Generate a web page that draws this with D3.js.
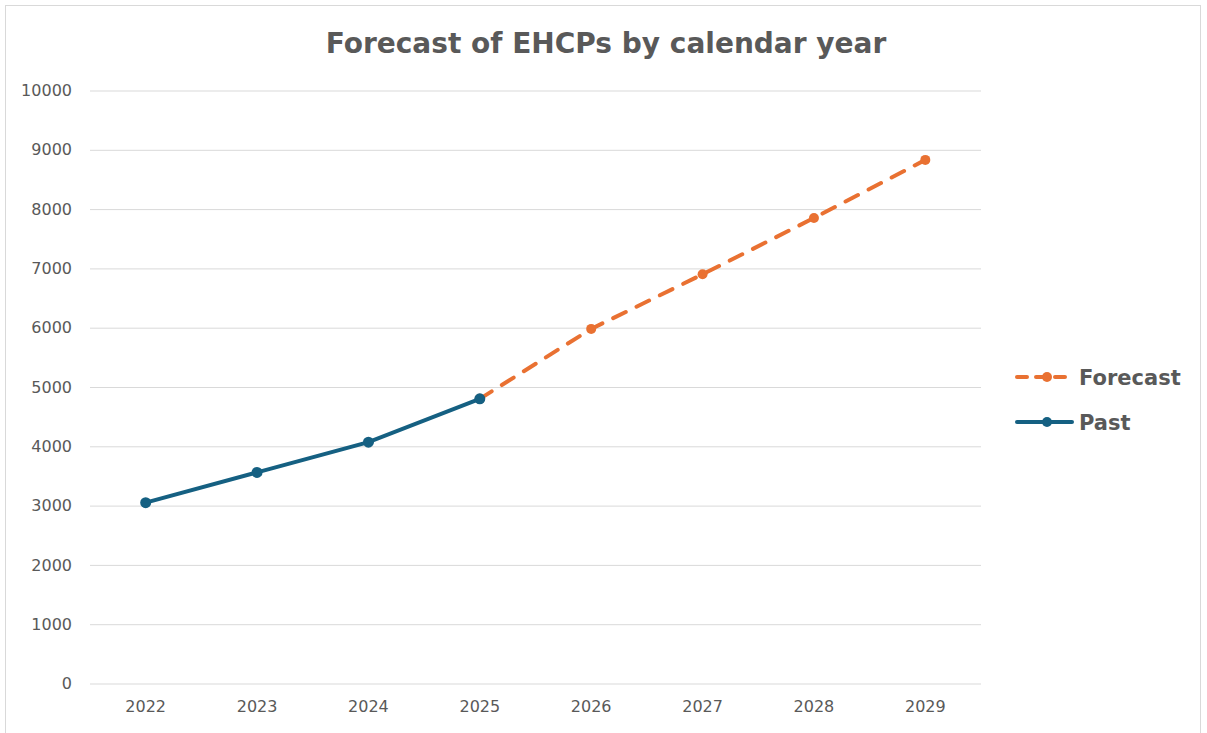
<!DOCTYPE html>
<html>
<head>
<meta charset="utf-8">
<script src="https://cdn.jsdelivr.net/npm/d3@7"></script>
<style>
  body { margin: 0; background: #fff; }
  svg text { font-family: "DejaVu Sans", "Liberation Sans", Arial, sans-serif; fill: #595959; }
</style>
</head>
<body>
<div id="chart"></div>
<script>
// chart data
var years = ["2022", "2023", "2024", "2025", "2026", "2027", "2028", "2029"];
var pastYears = ["2022", "2023", "2024", "2025"];
var pastValues = [3050, 3560, 4070, 4800];
var forecastYears = ["2025", "2026", "2027", "2028", "2029"];
var forecastValues = [4800, 5980, 6900, 7850, 8830];
var yTicks = [0, 1000, 2000, 3000, 4000, 5000, 6000, 7000, 8000, 9000, 10000];

var W = 1207, H = 733;
var margin = {top: 90.5, right: 227, bottom: 50, left: 90};
var width = 981 - margin.left,
    height = 683.5 - margin.top;

var svg = d3.select("#chart")
  .append("svg")
    .attr("width", W)
    .attr("height", H);

// outer border
svg.append("rect")
  .attr("x", 5.5).attr("y", 5.5)
  .attr("width", 1195).attr("height", 740)
  .attr("fill", "none")
  .attr("stroke", "#d9d9d9");

svg.append("text")
  .attr("x", 606)
  .attr("y", 53)
  .attr("text-anchor", "middle")
  .style("font-size", "28px")
  .style("font-weight", "bold")
  .text("Forecast of EHCPs by calendar year");

var g = svg.append("g")
  .attr("transform", "translate(" + margin.left + "," + margin.top + ")");

var x = d3.scaleBand()
  .domain(years)
  .range([0, width]);

var y = d3.scaleLinear()
  .domain([0, 10000])
  .range([height, 0]);

// gridlines + y labels
var yAxis = g.append("g")
  .call(d3.axisLeft(y).tickValues(yTicks).tickSize(-width).tickFormat(d3.format("d")).tickPadding(18));
yAxis.select(".domain").remove();
yAxis.selectAll(".tick line").attr("stroke", "#d9d9d9").attr("stroke-width", 1);
yAxis.selectAll(".tick text").style("font-size", "16px").attr("fill", "#595959");

var xAxis = g.append("g")
  .attr("transform", "translate(0," + height + ")")
  .call(d3.axisBottom(x).tickSize(0).tickPadding(17));
xAxis.select(".domain").remove();
xAxis.selectAll(".tick text").style("font-size", "16px").attr("fill", "#595959");

var cx = function(d) { return x(d) + x.bandwidth() / 2; };

var line = d3.line()
  .x(function(d) { return cx(d[0]); })
  .y(function(d) { return y(d[1]); });

var orange = "#e97132", blue = "#156082";

var fData = d3.zip(forecastYears, forecastValues);
var pData = d3.zip(pastYears, pastValues);

g.append("path")
  .datum(fData)
  .attr("d", line)
  .attr("fill", "none")
  .attr("stroke", orange)
  .attr("stroke-width", 4)
  .attr("stroke-dasharray", "14,12")
  .attr("stroke-linecap", "round");

g.selectAll(".fdot")
  .data(fData)
  .enter().append("circle")
  .attr("class", "fdot")
  .attr("cx", function(d) { return cx(d[0]); })
  .attr("cy", function(d) { return y(d[1]); })
  .attr("r", 5)
  .attr("fill", orange);

g.append("path")
  .datum(pData)
  .attr("d", line)
  .attr("fill", "none")
  .attr("stroke", blue)
  .attr("stroke-width", 4)
  .attr("stroke-linecap", "round");

g.selectAll(".pdot")
  .data(pData)
  .enter().append("circle")
  .attr("class", "pdot")
  .attr("cx", function(d) { return cx(d[0]); })
  .attr("cy", function(d) { return y(d[1]); })
  .attr("r", 5.5)
  .attr("fill", blue);

// legend
var legend = [
  {name: "Forecast", color: orange, dash: "14,12", y: 377},
  {name: "Past", color: blue, dash: null, y: 422}
];
var lg = svg.selectAll(".leg")
  .data(legend)
  .enter().append("g")
  .attr("class", "leg")
  .attr("transform", function(d) { return "translate(1017," + d.y + ")"; });

lg.append("line")
  .attr("x1", 0).attr("x2", 55)
  .attr("stroke", function(d) { return d.color; })
  .attr("stroke-width", 4)
  .attr("stroke-linecap", "round")
  .attr("stroke-dasharray", function(d) { return d.dash ? "10,9" : null; });

lg.append("circle")
  .attr("cx", 30).attr("r", 5)
  .attr("fill", function(d) { return d.color; });

lg.append("text")
  .attr("x", 62)
  .attr("dy", "0.36em")
  .style("font-size", "21px")
  .style("font-weight", "bold")
  .text(function(d) { return d.name; });
</script>
</body>
</html>
